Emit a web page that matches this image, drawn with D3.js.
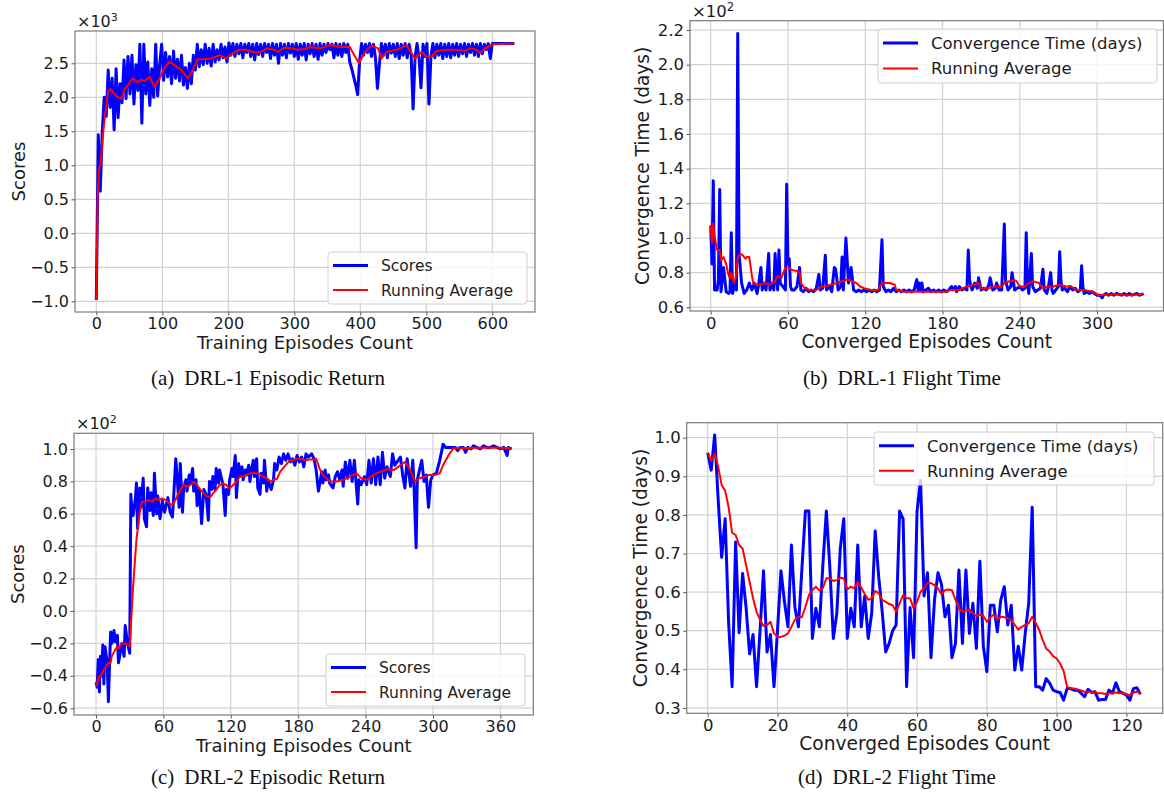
<!DOCTYPE html>
<html lang="en">
<head>
<meta charset="utf-8">
<title>DRL training and flight time</title>
<script src="https://cdn.jsdelivr.net/npm/d3@7"></script>
<style>
  body { margin: 0; background: #fff; }
  svg text { font-family: "DejaVu Sans", sans-serif; fill: #1c1c1c; }
  svg text.caption { font-family: "Liberation Serif", "Times New Roman", serif; fill: #111; }
</style>
</head>
<body>
<div id="chart"></div>
<script>
// ---------------- data ----------------

// (a) DRL-1 episodic return, x10^3, one value every 3 episodes
const drl1ScoreStep = 3;
const drl1Scores = [
  -0.98, 1.45, 0.62, 1.50, 2.00, 1.72, 2.40, 1.85, 2.28, 1.52,
  2.42, 1.70, 2.20, 1.92, 2.55, 1.98, 2.60, 2.05, 2.62, 1.90,
  2.48, 2.10, 2.78, 1.62, 2.78, 2.05, 2.52, 1.88, 2.42, 2.00,
  2.78, 2.02, 2.48, 2.78, 2.25, 2.66, 2.30, 2.60, 2.20, 2.68,
  2.28, 2.56, 2.24, 2.62, 2.18, 2.44, 2.13, 2.50, 2.20, 2.62,
  2.40, 2.78, 2.45, 2.70, 2.48, 2.78, 2.50, 2.72, 2.46, 2.78,
  2.52, 2.70, 2.55, 2.78, 2.58, 2.74, 2.52, 2.80, 2.62, 2.79,
  2.60, 2.78, 2.64, 2.79, 2.58, 2.78, 2.66, 2.79, 2.60, 2.78,
  2.55, 2.79, 2.63, 2.78, 2.60, 2.79, 2.66, 2.78, 2.57, 2.79,
  2.62, 2.78, 2.50, 2.79, 2.62, 2.78, 2.58, 2.79, 2.65, 2.78,
  2.60, 2.79, 2.56, 2.78, 2.62, 2.79, 2.55, 2.78, 2.64, 2.79,
  2.60, 2.78, 2.56, 2.79, 2.62, 2.78, 2.66, 2.79, 2.70, 2.78,
  2.58, 2.79, 2.62, 2.78, 2.60, 2.79, 2.66, 2.78, 2.52, 2.42,
  2.30, 2.18, 2.04, 2.55, 2.79, 2.62, 2.78, 2.66, 2.79, 2.60,
  2.78, 2.58, 2.13, 2.50, 2.79, 2.62, 2.78, 2.58, 2.79, 2.65,
  2.78, 2.60, 2.79, 2.57, 2.78, 2.62, 2.79, 2.58, 2.78, 2.62,
  1.83, 2.60, 2.79, 2.58, 2.14, 2.78, 2.60, 2.79, 1.90, 2.60,
  2.79, 2.58, 2.78, 2.62, 2.79, 2.57, 2.78, 2.60, 2.79, 2.58,
  2.78, 2.62, 2.79, 2.60, 2.78, 2.64, 2.79, 2.60, 2.78, 2.66,
  2.79, 2.62, 2.78, 2.60, 2.79, 2.64, 2.78, 2.70, 2.79, 2.57,
  2.79, 2.79, 2.79, 2.79, 2.79, 2.79, 2.79, 2.79, 2.79, 2.79,
  2.79, 2.79
];
// [episode, running average x10^3]
const drl1ScoreAvg = [
  [0,-0.98],[2,0.5],[4,0.95],[6,1.0],[8,1.2],[10,1.45],[14,1.8],[18,2.08],[22,2.12],[27,2.05],
  [33,2.0],[38,1.98],[43,2.12],[48,2.18],[55,2.28],[63,2.22],[68,2.26],[73,2.24],[81,2.3],[88,2.15],
  [96,2.28],[103,2.43],[111,2.52],[119,2.47],[129,2.4],[139,2.28],[146,2.4],[154,2.56],[162,2.56],[174,2.57],
  [187,2.62],[197,2.57],[207,2.65],[217,2.7],[227,2.7],[240,2.66],[250,2.67],[258,2.72],[268,2.7],[275,2.67],
  [285,2.73],[295,2.72],[305,2.7],[316,2.71],[324,2.74],[339,2.72],[354,2.77],[369,2.74],[384,2.74],[392,2.6],
  [398,2.5],[407,2.67],[417,2.76],[427,2.72],[432,2.57],[440,2.67],[455,2.7],[470,2.76],[483,2.57],[493,2.67],
  [500,2.6],[508,2.6],[516,2.68],[531,2.7],[546,2.7],[559,2.68],[566,2.72],[576,2.7],[581,2.65],[591,2.73],
  [601,2.78],[634,2.79]
];

// (b) DRL-1 convergence time, x10^2 days, [episode, value]
const drl1Time = [
  [0,1.07],[1,0.85],[2,1.33],[3,0.70],[5,0.70],[6,0.76],[7,1.28],[8,0.69],[10,0.83],[12,0.69],
  [14,0.68],[15,0.69],[16,1.03],[17,0.68],[19,0.74],[20,0.70],[21,2.18],[22,0.91],[24,0.74],[26,0.68],
  [28,0.70],[30,0.74],[32,0.70],[34,0.74],[36,0.68],[37,0.72],[39,0.83],[40,0.70],[42,0.74],[43,0.70],
  [45,0.91],[46,0.70],[48,0.74],[49,0.70],[50,0.91],[51,0.78],[52,0.70],[53,0.93],[54,0.74],[56,0.72],
  [58,0.70],[59,1.31],[60,0.85],[61,0.88],[62,0.72],[63,0.70],[65,0.70],[67,0.72],[69,0.83],[70,0.70],
  [72,0.69],[74,0.71],[76,0.69],[78,0.70],[80,0.69],[82,0.71],[84,0.79],[85,0.70],[87,0.71],[89,0.90],
  [90,0.70],[92,0.72],[94,0.69],[96,0.83],[97,0.82],[99,0.70],[101,0.72],[102,0.89],[103,0.70],[105,1.00],
  [107,0.74],[109,0.83],[111,0.70],[113,0.69],[115,0.70],[117,0.69],[119,0.70],[121,0.69],[123,0.70],[125,0.69],
  [127,0.70],[129,0.69],[131,0.70],[133,0.99],[134,0.72],[136,0.69],[138,0.70],[140,0.69],[142,0.71],[144,0.69],
  [146,0.70],[148,0.69],[150,0.70],[152,0.69],[154,0.70],[156,0.69],[158,0.70],[160,0.76],[161,0.70],[162,0.74],
  [163,0.70],[164,0.74],[165,0.69],[167,0.70],[169,0.71],[171,0.69],[173,0.70],[175,0.69],[177,0.70],[179,0.69],
  [181,0.70],[183,0.69],[185,0.70],[187,0.72],[188,0.70],[190,0.72],[191,0.69],[193,0.72],[195,0.70],[197,0.71],
  [199,0.70],[200,0.93],[201,0.76],[202,0.72],[203,0.70],[205,0.74],[207,0.71],[208,0.77],[210,0.70],[212,0.71],
  [214,0.70],[216,0.73],[217,0.77],[219,0.70],[221,0.71],[222,0.74],[224,0.70],[226,0.70],[228,1.08],[229,0.75],
  [231,0.70],[233,0.72],[234,0.80],[236,0.70],[238,0.71],[240,0.72],[242,0.70],[244,0.71],[245,1.03],[246,0.74],
  [247,0.68],[249,0.91],[250,0.72],[252,0.69],[254,0.70],[256,0.71],[258,0.82],[259,0.70],[261,0.68],[262,0.71],
  [264,0.80],[265,0.70],[266,0.68],[268,0.70],[270,0.72],[271,0.92],[272,0.75],[273,0.70],[275,0.71],[277,0.69],
  [279,0.72],[281,0.70],[283,0.71],[285,0.69],[287,0.70],[288,0.84],[289,0.72],[290,0.68],[292,0.69],[294,0.68],
  [296,0.69],[298,0.68],[300,0.67],[302,0.67],[304,0.655],[305,0.67],[307,0.68],[309,0.67],[311,0.68],[313,0.67],
  [315,0.68],[317,0.675],[319,0.67],[321,0.68],[323,0.67],[325,0.68],[327,0.67],[329,0.675],[331,0.68],[333,0.67],
  [335,0.675],[336,0.68]
];
const drl1TimeAvg = [
  [0,1.075],[1,0.97],[2,1.085],[3,1.01],[5,0.93],[7,0.93],[8,0.87],[10,0.89],[12,0.85],[14,0.78],
  [15,0.77],[16,0.80],[18,0.74],[19,0.76],[20,0.80],[21,0.89],[23,0.91],[25,0.90],[27,0.88],[28,0.89],
  [30,0.89],[32,0.78],[33,0.74],[36,0.73],[39,0.73],[42,0.74],[46,0.73],[50,0.75],[52,0.78],[55,0.77],
  [58,0.83],[60,0.83],[63,0.815],[67,0.81],[69,0.80],[70,0.74],[73,0.71],[77,0.70],[82,0.70],[86,0.72],
  [89,0.72],[93,0.73],[98,0.74],[102,0.75],[106,0.76],[110,0.75],[113,0.74],[116,0.72],[119,0.71],[124,0.70],
  [130,0.70],[133,0.74],[139,0.74],[143,0.73],[144,0.70],[150,0.69],[165,0.69],[183,0.69],[186,0.70],[193,0.70],
  [199,0.72],[204,0.73],[208,0.74],[210,0.71],[215,0.71],[222,0.72],[226,0.72],[228,0.74],[232,0.75],[237,0.755],
  [240,0.72],[244,0.72],[247,0.74],[250,0.75],[255,0.74],[258,0.71],[262,0.72],[266,0.72],[271,0.73],[276,0.72],
  [280,0.72],[284,0.70],[290,0.70],[297,0.69],[301,0.67],[312,0.675],[325,0.67],[336,0.675]
];

// (c) DRL-2 episodic return, x10^2, [episode, value]
const drl2Scores = [
  [0,-0.44],[1,-0.47],[2,-0.30],[3,-0.50],[4,-0.28],[5,-0.40],[6,-0.21],[7,-0.45],[8,-0.22],[10,-0.32],
  [11,-0.56],[13,-0.13],[14,-0.20],[16,-0.12],[17,-0.19],[19,-0.15],[20,-0.32],[22,-0.24],[23,-0.20],[25,-0.28],
  [26,-0.09],[28,-0.20],[30,-0.26],[31,0.72],[32,0.62],[33,0.59],[35,0.69],[36,0.79],[37,0.51],[39,0.76],
  [40,0.64],[42,0.82],[43,0.57],[45,0.52],[46,0.76],[48,0.62],[49,0.73],[51,0.59],[52,0.85],[54,0.60],
  [55,0.71],[57,0.57],[59,0.68],[61,0.61],[64,0.70],[66,0.61],[68,0.58],[69,0.69],[71,0.94],[72,0.85],
  [74,0.64],[75,0.91],[77,0.61],[78,0.76],[80,0.81],[81,0.74],[83,0.84],[84,0.79],[86,0.88],[87,0.74],
  [89,0.81],[90,0.65],[92,0.75],[94,0.54],[96,0.75],[98,0.72],[100,0.56],[101,0.80],[103,0.75],[104,0.83],
  [106,0.75],[107,0.88],[109,0.79],[110,0.87],[112,0.81],[113,0.78],[115,0.59],[116,0.75],[118,0.72],[119,0.81],
  [121,0.88],[122,0.83],[124,0.96],[125,0.70],[127,0.91],[128,0.84],[130,0.89],[131,0.81],[133,0.87],[134,0.84],
  [136,0.90],[137,0.80],[139,0.89],[140,0.93],[141,0.83],[143,0.94],[144,0.76],[146,0.72],[147,0.85],[149,0.79],
  [150,0.93],[152,0.74],[153,0.81],[156,0.75],[158,0.81],[159,0.91],[161,0.87],[163,0.95],[165,0.91],[167,0.97],
  [169,0.93],[171,0.97],[173,0.92],[175,0.94],[177,0.90],[179,0.96],[181,0.92],[183,0.95],[185,0.89],[187,0.97],
  [189,0.95],[192,0.97],[194,0.94],[196,0.87],[198,0.74],[199,0.78],[201,0.86],[202,0.79],[204,0.87],[205,0.81],
  [207,0.84],[208,0.79],[211,0.76],[213,0.83],[215,0.86],[217,0.81],[219,0.87],[220,0.77],[222,0.92],[224,0.82],
  [226,0.93],[228,0.80],[230,0.93],[233,0.66],[234,0.81],[236,0.78],[239,0.83],[241,0.78],[243,0.93],[245,0.79],
  [247,0.94],[249,0.78],[251,0.95],[253,0.78],[255,0.98],[257,0.82],[259,0.89],[262,0.83],[264,0.97],[266,0.90],
  [268,0.92],[271,0.95],[273,0.84],[275,0.76],[277,0.94],[280,0.77],[282,0.93],[283,0.79],[285,0.39],[286,0.81],
  [288,0.87],[290,0.93],[292,0.80],[294,0.84],[296,0.64],[298,0.81],[300,0.84],[303,0.85],[306,0.93],[309,1.03],
  [311,1.01],[314,1.01],[317,1.01],[320,1.01],[322,0.99],[324,1.01],[327,1.01],[329,0.98],[331,1.01],[334,1.00],
  [336,1.02],[339,1.01],[342,1.00],[345,1.02],[348,1.01],[351,1.01],[354,1.02],[357,1.01],[360,1.00],[363,1.01],
  [366,0.96],[367,1.01],[370,1.00]
];
const drl2ScoreAvg = [
  [0,-0.44],[1,-0.46],[2,-0.41],[5,-0.39],[8,-0.35],[11,-0.32],[13,-0.32],[14,-0.28],[17,-0.24],[19,-0.22],
  [20,-0.23],[23,-0.20],[26,-0.20],[28,-0.21],[30,-0.22],[33,0.15],[36,0.44],[39,0.61],[41,0.675],[44,0.675],
  [47,0.685],[50,0.675],[53,0.695],[56,0.685],[59,0.695],[62,0.685],[65,0.665],[68,0.654],[70,0.675],[72,0.706],
  [75,0.747],[78,0.778],[81,0.767],[84,0.778],[87,0.798],[90,0.778],[93,0.747],[96,0.726],[99,0.706],[102,0.706],
  [104,0.726],[107,0.747],[110,0.778],[113,0.788],[116,0.778],[119,0.757],[122,0.778],[125,0.798],[128,0.829],[131,0.829],
  [134,0.84],[137,0.85],[140,0.854],[143,0.85],[146,0.845],[149,0.829],[152,0.82],[155,0.80],[158,0.81],[161,0.815],
  [164,0.86],[167,0.885],[170,0.91],[173,0.93],[176,0.932],[179,0.94],[182,0.94],[186,0.93],[190,0.935],[194,0.936],
  [196,0.94],[199,0.88],[202,0.84],[205,0.82],[208,0.80],[214,0.80],[220,0.81],[226,0.83],[232,0.85],[236,0.82],
  [241,0.81],[247,0.84],[253,0.86],[259,0.875],[265,0.87],[271,0.90],[275,0.92],[278,0.89],[281,0.85],[284,0.80],
  [288,0.82],[293,0.83],[297,0.84],[302,0.84],[306,0.85],[309,0.90],[314,0.963],[318,1.004],[324,1.004],[339,1.008],
  [354,1.01],[370,1.004]
];

// (d) DRL-2 convergence time (days), one value per episode 0..124
const drl2Time = [
  0.961, 0.916, 1.007, 0.84, 0.69, 0.79, 0.52, 0.355, 0.73, 0.495,
  0.648, 0.56, 0.44, 0.49, 0.355, 0.50, 0.655, 0.445, 0.49, 0.355,
  0.50, 0.655, 0.575, 0.51, 0.722, 0.56, 0.51, 0.66, 0.81, 0.81,
  0.48, 0.558, 0.51, 0.67, 0.81, 0.665, 0.48, 0.545, 0.713, 0.79,
  0.48, 0.558, 0.51, 0.722, 0.51, 0.59, 0.48, 0.545, 0.758, 0.64,
  0.55, 0.445, 0.467, 0.50, 0.515, 0.81, 0.79, 0.355, 0.56, 0.43,
  0.81, 0.89, 0.59, 0.65, 0.43, 0.58, 0.65, 0.62, 0.536, 0.566,
  0.43, 0.467, 0.657, 0.467, 0.657, 0.493, 0.571, 0.454, 0.68, 0.46,
  0.394, 0.566, 0.566, 0.497, 0.58, 0.614, 0.515, 0.566, 0.398, 0.46,
  0.398, 0.493, 0.571, 0.82, 0.355, 0.355, 0.346, 0.376, 0.364, 0.346,
  0.342, 0.34, 0.32, 0.35, 0.35, 0.346, 0.346, 0.338, 0.329, 0.348,
  0.34, 0.342, 0.32, 0.322, 0.322, 0.346, 0.338, 0.365, 0.342, 0.338,
  0.333, 0.32, 0.35, 0.352, 0.335
];
const drl2TimeAvg = [
  0.961, 0.94, 0.96, 0.925, 0.877, 0.863, 0.82, 0.754, 0.748, 0.722,
  0.713, 0.67, 0.627, 0.584, 0.549, 0.528, 0.512, 0.515, 0.523, 0.493,
  0.484, 0.484, 0.487, 0.493, 0.51, 0.528, 0.536, 0.535, 0.562, 0.592,
  0.605, 0.614, 0.604, 0.61, 0.636, 0.636, 0.629, 0.631, 0.637, 0.636,
  0.607, 0.614, 0.61, 0.627, 0.612, 0.595, 0.58, 0.584, 0.603, 0.597,
  0.58, 0.575, 0.569, 0.566, 0.549, 0.571, 0.592, 0.584, 0.584, 0.558,
  0.575, 0.601, 0.61, 0.624, 0.623, 0.618, 0.61, 0.594, 0.605, 0.607,
  0.605, 0.58, 0.558, 0.549, 0.552, 0.555, 0.545, 0.538, 0.542, 0.538,
  0.523, 0.535, 0.542, 0.528, 0.536, 0.535, 0.532, 0.528, 0.515, 0.503,
  0.51, 0.515, 0.519, 0.536, 0.52, 0.502, 0.476, 0.454, 0.446, 0.434,
  0.428, 0.415, 0.396, 0.355, 0.35, 0.35, 0.348, 0.345, 0.342, 0.342,
  0.341, 0.34, 0.338, 0.338, 0.336, 0.338, 0.338, 0.34, 0.338, 0.338,
  0.336, 0.333, 0.34, 0.342, 0.338
];

// tick values
const ticksAX = [0, 100, 200, 300, 400, 500, 600];
const ticksAY = [-1.0, -0.5, 0.0, 0.5, 1.0, 1.5, 2.0, 2.5];
const ticksBX = [0, 60, 120, 180, 240, 300];
const ticksBY = [0.6, 0.8, 1.0, 1.2, 1.4, 1.6, 1.8, 2.0, 2.2];
const ticksCX = [0, 60, 120, 180, 240, 300, 360];
const ticksCY = [-0.6, -0.4, -0.2, 0.0, 0.2, 0.4, 0.6, 0.8, 1.0];
const ticksDX = [0, 20, 40, 60, 80, 100, 120];
const ticksDY = [0.3, 0.4, 0.5, 0.6, 0.7, 0.8, 0.9, 1.0];

const toPairs = (vals, step) => vals.map((v, i) => [i * step, v]);

// ---------------- layout ----------------
const panels = [
  { box: {x: 75, y: 31, w: 460, h: 281}, xDomain: [-32.3, 664.7], yDomain: [-1.157, 2.975],
    xTicks: ticksAX, yTicks: ticksAY, tickFont: 16, labelFont: 18, legendFont: 15.5,
    raw: toPairs(drl1Scores, drl1ScoreStep), avg: drl1ScoreAvg,
    rawName: "Scores", xLabel: "Training Episodes Count", yLabel: "Scores", exp: "3",
    yLabelX: 25, legend: {x: 328, y: 252, w: 199, h: 52},
    capLabel: "(a)", capText: "DRL-1 Episodic Return", capX: 268, capY: 385 },
  { box: {x: 690, y: 20.7, w: 473.5, h: 290.3}, xDomain: [-16.07, 351.6], yDomain: [0.5786, 2.254],
    xTicks: ticksBX, yTicks: ticksBY, tickFont: 16.5, labelFont: 18.6, legendFont: 16.5,
    raw: drl1Time, avg: drl1TimeAvg,
    rawName: "Convergence Time (days)", xLabel: "Converged Episodes Count", yLabel: "Convergence Time (days)", exp: "2",
    yLabelX: 649, legend: {x: 878, y: 29, w: 279, h: 54},
    capLabel: "(b)", capText: "DRL-1 Flight Time", capX: 902, capY: 385 },
  { box: {x: 74, y: 433.3, w: 459.3, h: 281.7}, xDomain: [-19.6, 389.3], yDomain: [-0.642, 1.097],
    xTicks: ticksCX, yTicks: ticksCY, tickFont: 16, labelFont: 18, legendFont: 15.5,
    raw: drl2Scores, avg: drl2ScoreAvg,
    rawName: "Scores", xLabel: "Training Episodes Count", yLabel: "Scores", exp: "2",
    yLabelX: 24, legend: {x: 326, y: 654, w: 199, h: 52},
    capLabel: "(c)", capText: "DRL-2 Episodic Return", capX: 268, capY: 784 },
  { box: {x: 686.7, y: 422.7, w: 476, h: 290.6}, xDomain: [-6.02, 130.4], yDomain: [0.286, 1.0389],
    xTicks: ticksDX, yTicks: ticksDY, tickFont: 16.5, labelFont: 18.6, legendFont: 16.5,
    raw: toPairs(drl2Time, 1), avg: toPairs(drl2TimeAvg, 1),
    rawName: "Convergence Time (days)", xLabel: "Converged Episodes Count", yLabel: "Convergence Time (days)", exp: null,
    yLabelX: 647, legend: {x: 874, y: 432, w: 280, h: 53},
    capLabel: "(d)", capText: "DRL-2 Flight Time", capX: 897, capY: 784 }
];

const svg = d3.select("#chart").append("svg")
  .attr("width", 1164).attr("height", 792);

const fmt = d3.format(".1f");

function drawPanel(p) {
  const b = p.box;
  const x = d3.scaleLinear().domain(p.xDomain).range([b.x, b.x + b.w]);
  const y = d3.scaleLinear().domain(p.yDomain).range([b.y + b.h, b.y]);
  const g = svg.append("g");

  // grid
  g.append("g").selectAll("line").data(p.xTicks).join("line")
    .attr("x1", d => x(d)).attr("x2", d => x(d))
    .attr("y1", b.y).attr("y2", b.y + b.h)
    .attr("stroke", "#d2d2d2").attr("stroke-width", 1.2);
  g.append("g").selectAll("line").data(p.yTicks).join("line")
    .attr("y1", d => y(d)).attr("y2", d => y(d))
    .attr("x1", b.x).attr("x2", b.x + b.w)
    .attr("stroke", "#d2d2d2").attr("stroke-width", 1.2);

  // axes
  const ax = g.append("g").attr("transform", `translate(0,${b.y + b.h})`)
    .call(d3.axisBottom(x).tickValues(p.xTicks).tickFormat(d3.format("d")).tickSize(3.5).tickPadding(2.5));
  const ay = g.append("g").attr("transform", `translate(${b.x},0)`)
    .call(d3.axisLeft(y).tickValues(p.yTicks).tickFormat(fmt).tickSize(3.5).tickPadding(2.5));
  [ax, ay].forEach(a => {
    a.select(".domain").remove();
    a.selectAll(".tick line").attr("stroke", "#555");
    a.selectAll("text").style("font-size", p.tickFont + "px")
      .style("font-family", '"DejaVu Sans", sans-serif').attr("fill", "#1c1c1c");
  });

  // lines
  const line = d3.line().x(d => x(d[0])).y(d => y(d[1]));
  g.append("path").datum(p.raw).attr("d", line)
    .attr("fill", "none").attr("stroke", "#0000ff").attr("stroke-width", 3)
    .attr("stroke-linejoin", "round");
  g.append("path").datum(p.avg).attr("d", line)
    .attr("fill", "none").attr("stroke", "#ff0000").attr("stroke-width", 2)
    .attr("stroke-linejoin", "round");

  // frame
  g.append("rect").attr("x", b.x).attr("y", b.y).attr("width", b.w).attr("height", b.h)
    .attr("fill", "none").attr("stroke", "#7a7a7a").attr("stroke-width", 1.2);

  // offset text
  if (p.exp) {
    const t = g.append("text").attr("x", b.x + 2).attr("y", b.y - 4)
      .style("font-size", p.tickFont + "px");
    t.append("tspan").text("\u00d710");
    t.append("tspan").attr("dy", -6).style("font-size", (p.tickFont * 0.7) + "px").text(p.exp);
  }

  // axis labels
  g.append("text").attr("x", b.x + b.w / 2).attr("y", b.y + b.h + 37)
    .attr("text-anchor", "middle").style("font-size", p.labelFont + "px").text(p.xLabel);
  g.append("text").attr("transform", `translate(${p.yLabelX},${b.y + b.h / 2}) rotate(-90)`)
    .attr("text-anchor", "middle").style("font-size", p.labelFont + "px").text(p.yLabel);

  // legend
  const L = p.legend;
  const lg = g.append("g");
  lg.append("rect").attr("x", L.x).attr("y", L.y).attr("width", L.w).attr("height", L.h)
    .attr("rx", 3).attr("fill", "#fff").attr("fill-opacity", 0.8)
    .attr("stroke", "#d0d0d0").attr("stroke-width", 1);
  const items = [
    {name: p.rawName, color: "#0000ff", w: 3},
    {name: "Running Average", color: "#ff0000", w: 2}
  ];
  const rowH = L.h * 0.47;
  items.forEach((it, i) => {
    const cy = L.y + L.h * 0.26 + i * rowH;
    lg.append("line").attr("x1", L.x + 5).attr("x2", L.x + 40).attr("y1", cy).attr("y2", cy)
      .attr("stroke", it.color).attr("stroke-width", it.w);
    lg.append("text").attr("x", L.x + 53).attr("y", cy).attr("dy", "0.36em")
      .style("font-size", p.legendFont + "px").text(it.name);
  });

  // caption
  const c = svg.append("text").attr("class", "caption").attr("x", p.capX).attr("y", p.capY)
    .attr("text-anchor", "middle").style("font-size", "21px");
  c.append("tspan").text(p.capLabel);
  c.append("tspan").attr("dx", 10).text(p.capText);
}

panels.forEach(drawPanel);
</script>
</body>
</html>
